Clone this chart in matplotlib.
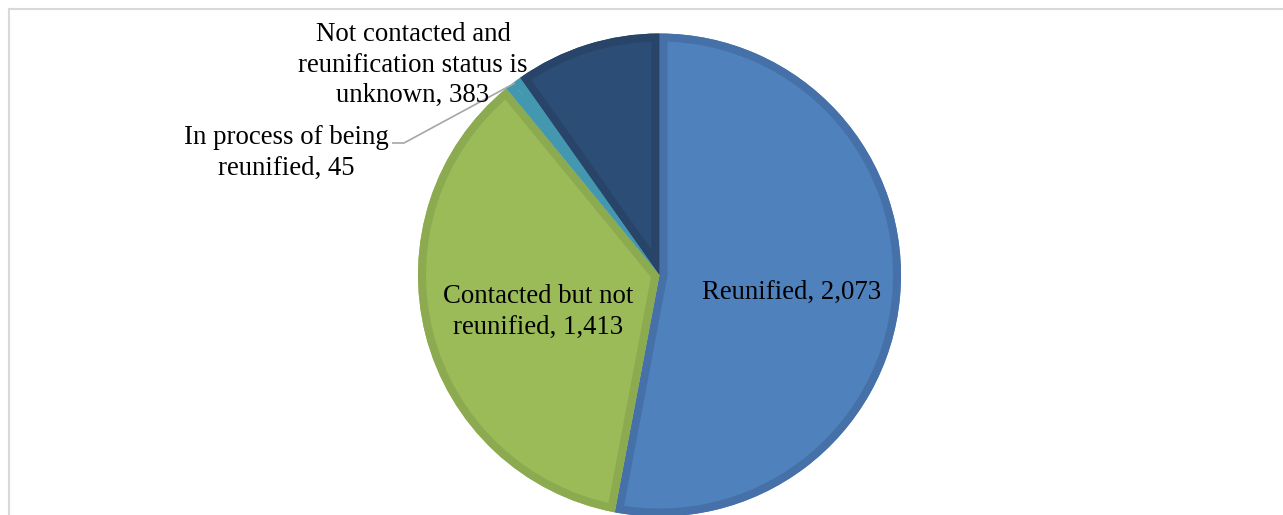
import matplotlib
matplotlib.use("Agg")
import matplotlib.pyplot as plt
from matplotlib.lines import Line2D
from matplotlib.patches import Wedge

labels = ["Reunified", "Contacted but not\nreunified", "In process of being\nreunified",
          "Not contacted and\nreunification status is\nunknown"]
values = [2073, 1413, 45, 383]
fill_colors = ["#4F81BD", "#9BBB59", "#4BACC6", "#2C4D75"]
edge_colors = ["#4571A8", "#8CAA4F", "#4398B0", "#284468"]

W, H = 1283, 515
fig = plt.figure(figsize=(W / 100, H / 100), dpi=100)
ax = fig.add_axes([0, 0, 1, 1])

cx, cy, R = 659.5, H - 275, 241.5
wedges, _ = ax.pie(values, colors=fill_colors, startangle=90, counterclock=False,
                   center=(cx, cy), radius=R, frame=True,
                   wedgeprops=dict(linewidth=0))
ax.set_xlim(0, W)
ax.set_ylim(0, H)
ax.set_aspect("equal")
ax.axis("off")
for w, ec in zip(wedges, edge_colors):
    border = Wedge(w.center, w.r, w.theta1, w.theta2, facecolor="none",
                   edgecolor=ec, linewidth=11.5)
    ax.add_patch(border)
    border.set_clip_path(w)

font = dict(family=["Liberation Serif", "DejaVu Serif"], fontsize=19.3, color="black")

def lab(i):
    return f"{labels[i]}, {values[i]:,}"

ax.text(792, H - 292, lab(0), ha="center", va="center", **font)
ax.text(538, H - 312, lab(1), ha="center", va="center", multialignment="center", linespacing=1.3, **font)
ax.text(286, H - 153, lab(2), ha="center", va="center", multialignment="center", linespacing=1.3, **font)
ax.text(413, H - 65, lab(3), ha="center", va="center", multialignment="center", linespacing=1.3, **font)

# leader line for the small slice
ax.plot([392, 404, 515], [H - 143, H - 143, H - 83], color="#A6A6A6", lw=1.2, solid_capstyle="butt")

# chart frame
fig.add_artist(Line2D([8.5 / W, 8.5 / W], [0, 1 - 9 / H], transform=fig.transFigure, color="#D9D9D9", lw=1.5))
fig.add_artist(Line2D([8.5 / W, 1], [1 - 9 / H, 1 - 9 / H], transform=fig.transFigure, color="#D9D9D9", lw=1.5))

fig.savefig("out.png", dpi=100)
